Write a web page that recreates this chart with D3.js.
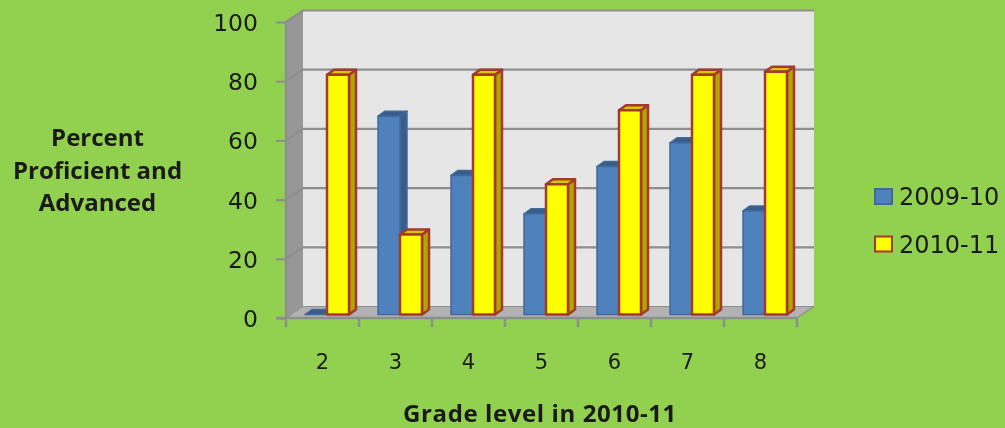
<!DOCTYPE html>
<html>
<head>
<meta charset="utf-8">
<script src="https://cdn.jsdelivr.net/npm/d3@7"></script>
<style>
  html, body { margin: 0; padding: 0; background: #92d050; }
  svg { display: block; filter: blur(0.5px); }
  .tick-label { font-family: "DejaVu Sans", sans-serif; fill: #1a1a1a; }
  .title { font-family: "Open Sans", sans-serif; font-weight: 700; fill: #1a1a1a; }
</style>
</head>
<body>
<svg id="chart" width="1005" height="428" xmlns="http://www.w3.org/2000/svg"></svg>
<script>
const GRADES = ['2', '3', '4', '5', '6', '7', '8'];
const SERIES_NAMES = ['2009-10', '2010-11'];
const VALUES_2009 = [0, 67, 47, 34, 50, 58, 35];
const VALUES_2010 = [81, 27, 81, 44, 69, 81, 82];
const Y_TICKS = [0, 20, 40, 60, 80, 100];
const Y_TITLE = ['Percent', 'Proficient and', 'Advanced'];
const X_TITLE = 'Grade level in 2010-11';

const GRID = '#8e8e8e';
const COLORS = [
    {front: '#4f81bd', side: '#385d8a', top: '#385d8a', stroke: '#41699a', width: 1.5},
    {front: '#ffff00', side: '#b3a600', top: '#d6c800', stroke: '#a5382f', width: 2.5}
];

// oblique offset of the back wall from the front plane
const DX = 17, DY = -11.5;

const svg = d3.select('#chart');

const xScale = d3.scaleBand().domain(GRADES).range([286, 797]);
const yScale = d3.scaleLinear().domain([0, 100]).range([318, 22]);

function renderWalls() {
    const x0 = xScale.range()[0], x1 = xScale.range()[1];
    const yTop = yScale(100), yBottom = yScale(0);

    svg.append('polygon')
        .attr('points', [[x0 + DX, yTop + DY], [x1 + DX, yTop + DY], [x1 + DX, yBottom + DY], [x0 + DX, yBottom + DY]].join(' '))
        .attr('fill', '#e6e6e6');
    svg.append('polygon')
        .attr('points', [[x0, yTop], [x0 + DX, yTop + DY], [x0 + DX, yBottom + DY], [x0, yBottom]].join(' '))
        .attr('fill', '#979797');
    svg.append('polygon')
        .attr('points', [[x0, yBottom], [x0 + DX, yBottom + DY], [x1 + DX, yBottom + DY], [x1, yBottom]].join(' '))
        .attr('fill', '#b2b2b2');

    Y_TICKS.forEach(t => {
        svg.append('polyline')
            .attr('points', [[x0, yScale(t)], [x0 + DX, yScale(t) + DY], [x1 + DX, yScale(t) + DY]].join(' '))
            .attr('fill', 'none')
            .attr('stroke', GRID)
            .attr('stroke-width', t === 0 ? 1 : 2.2);
    });
    svg.append('line')
        .attr('x1', x1).attr('x2', x1 + DX)
        .attr('y1', yBottom).attr('y2', yBottom + DY)
        .attr('stroke', GRID).attr('stroke-width', 1.5);
}

function renderAxes() {
    const yAxis = d3.axisLeft(yScale).tickValues(Y_TICKS).tickSize(10).tickPadding(18);
    const gy = svg.append('g').attr('transform', 'translate(286,0)').call(yAxis);
    gy.selectAll('line').attr('stroke', GRID).attr('stroke-width', 2.2);
    gy.select('.domain').attr('d', 'M-0,22V318').attr('stroke', GRID).attr('stroke-width', 2.5);
    gy.selectAll('text').attr('class', 'tick-label').style('font-size', '23.5px').attr('dy', '0.36em');

    const xAxis = d3.axisBottom(xScale).tickSize(0).tickPadding(36);
    const gx = svg.append('g').attr('transform', 'translate(0,318)').call(xAxis);
    gx.select('.domain').attr('d', 'M276,0H797').attr('stroke', GRID).attr('stroke-width', 2.5);
    gx.selectAll('text').attr('class', 'tick-label').style('font-size', '21px');

    // tick marks sit on the band boundaries
    const bounds = GRADES.map(g => xScale(g)).concat(xScale.range()[1]);
    svg.append('g').selectAll('line').data(bounds).enter().append('line')
        .attr('x1', d => d).attr('x2', d => d)
        .attr('y1', 318).attr('y2', 327)
        .attr('stroke', GRID).attr('stroke-width', 2.5);
}

function renderBar(x, y0, y1, w, c) {
    const d = 7, e = -5;
    const group = svg.append('g')
        .attr('stroke', c.stroke).attr('stroke-width', c.width).attr('stroke-linejoin', 'round');
    if (y0 - y1 < 0.5) {
        group.append('polygon')
            .attr('points', [[x, y0], [x + d, y0 + e], [x + w + d, y0 + e], [x + w, y0]].join(' '))
            .attr('fill', c.top);
        return;
    }
    group.append('polygon')
        .attr('points', [[x + w, y1], [x + w + d, y1 + e], [x + w + d, y0 + e], [x + w, y0]].join(' '))
        .attr('fill', c.side);
    group.append('polygon')
        .attr('points', [[x, y1], [x + d, y1 + e], [x + w + d, y1 + e], [x + w, y1]].join(' '))
        .attr('fill', c.top);
    group.append('rect')
        .attr('x', x).attr('y', y1).attr('width', w).attr('height', y0 - y1)
        .attr('fill', c.front);
}

function renderBars() {
    const barW = 22, shiftX = 4.5, shiftY = -3.5;
    GRADES.forEach((g, i) => {
        const mid = xScale(g) + xScale.bandwidth() / 2 + shiftX;
        [VALUES_2009[i], VALUES_2010[i]].forEach((v, s) => {
            renderBar(mid - barW + s * barW, yScale(0) + shiftY, yScale(v) + shiftY, barW, COLORS[s]);
        });
    });
}

function renderTitles() {
    svg.append('g').selectAll('text').data(Y_TITLE).enter().append('text')
        .attr('class', 'title')
        .attr('x', 97.5)
        .attr('y', (d, i) => 146 + i * 32.5)
        .attr('text-anchor', 'middle')
        .style('font-size', '24px')
        .text(d => d);
    svg.append('text')
        .attr('class', 'title')
        .attr('x', 540).attr('y', 421.5)
        .attr('text-anchor', 'middle')
        .style('font-size', '24px')
        .style('letter-spacing', '0.6px')
        .text(X_TITLE);
}

function renderLegend() {
    const row = svg.append('g').selectAll('g').data(SERIES_NAMES).enter().append('g')
        .attr('transform', (d, i) => `translate(875,${189 + i * 47.5})`);
    row.append('rect')
        .attr('width', 17).attr('height', 15)
        .attr('fill', (d, i) => COLORS[i].front)
        .attr('stroke', (d, i) => COLORS[i].stroke)
        .attr('stroke-width', 2);
    row.append('text')
        .attr('class', 'tick-label')
        .attr('x', 24).attr('y', 16)
        .style('font-size', '24px')
        .text(d => d);
}

renderWalls();
renderAxes();
renderBars();
renderTitles();
renderLegend();
</script>
</body>
</html>
